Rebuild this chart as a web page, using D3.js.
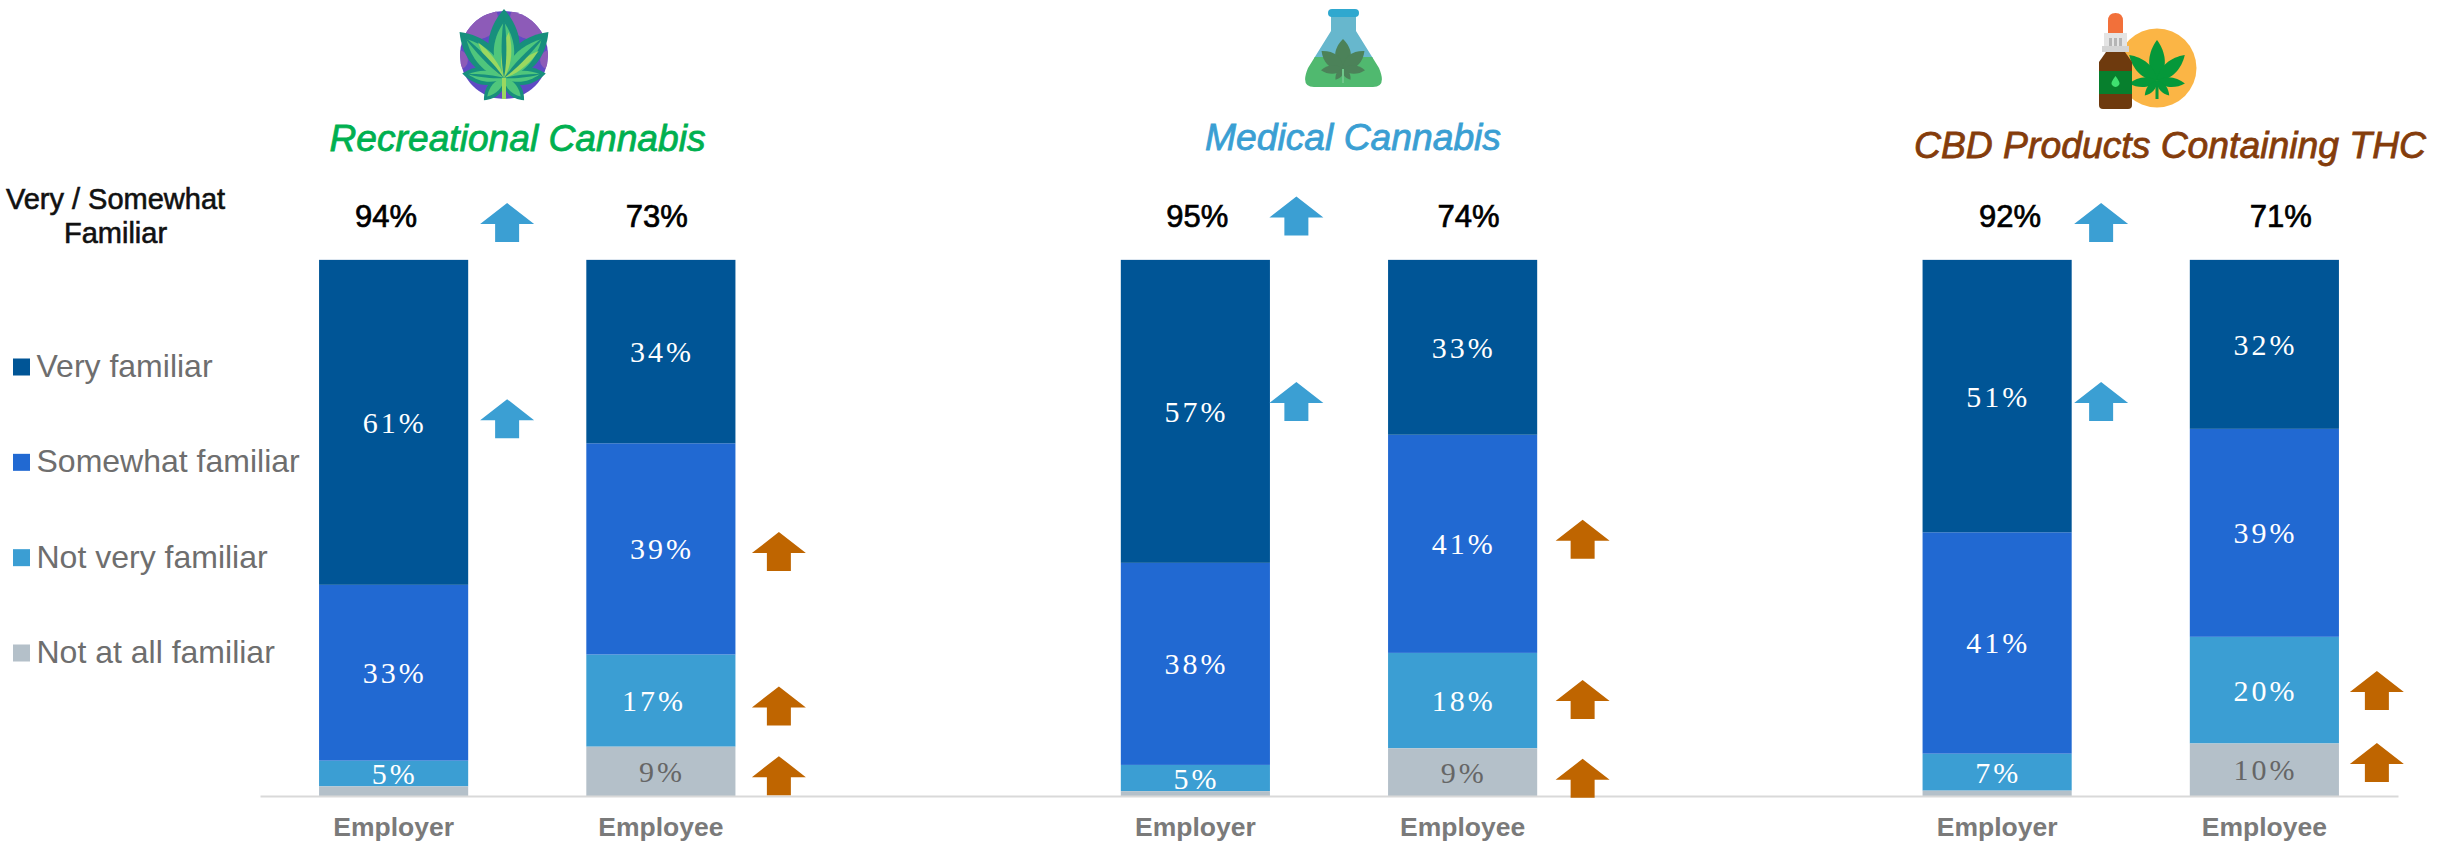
<!DOCTYPE html>
<html>
<head>
<meta charset="utf-8">
<script src="https://cdn.jsdelivr.net/npm/d3@7"></script>
<style>
html,body{margin:0;padding:0;background:#fff;overflow:hidden}
svg{display:block}
.sans{font-family:"Liberation Sans",Arial,sans-serif}
.serif{font-family:"Liberation Serif","Times New Roman",serif}
</style>
</head>
<body>
<div id="chart"></div>
<script>
// ---------- data ----------
const slots = ["rec-er","rec-ee","gap1","med-er","med-ee","gap2","cbd-er","cbd-ee"];
const barKeys = ["rec-er","rec-ee","med-er","med-ee","cbd-er","cbd-ee"];
const audiences = ["Employer","Employee","Employer","Employee","Employer","Employee"];
const titles = ["Recreational Cannabis","Medical Cannabis","CBD Products Containing THC"];
const legendLabels = ["Very familiar","Somewhat familiar","Not very familiar","Not at all familiar"];
const totalLabels = ["94%","73%","95%","74%","92%","71%"];
const veryFamiliar = [60.6,34.2,56.5,32.6,50.8,31.5];
const somewhatFamiliar = [32.8,39.4,37.7,40.7,41.3,38.8];
const notVeryFamiliar = [4.8,17.2,4.9,17.8,6.9,19.9];
const notAtAllFamiliar = [1.8,9.2,0.9,8.9,1.0,9.8];
// significance arrows: bar key + level on the percent scale
const arrowBars = ["rec-er","rec-er","rec-ee","rec-ee","rec-ee","med-er","med-er","med-ee","med-ee","med-ee","cbd-er","cbd-er","cbd-ee","cbd-ee"];
const arrowLevels = [107,70.4,45.6,16.8,3.8,108.2,73.6,47.9,18,3.3,107,73.6,19.7,6.25];

// ---------- style / layout ----------
const W=2456,H=843;
const colors=["#005596","#2169d2","#3b9ed3","#b4c0c9"];
const arrowColors={er:"#3b9fd3",ee:"#bf6500"};
const titleColors=["#00b050","#3a9fd3","#843c0b"];
const arrowDx={"rec-er":113.5,"rec-ee":118,"med-er":101,"med-ee":120,"cbd-er":104,"cbd-ee":112.5};
const totalDx={"rec-er":-7.5,"rec-ee":-4,"med-er":2,"med-ee":6,"cbd-er":13,"cbd-ee":16.5};
const labelDx={"rec-ee|notVery":-8};

const svg=d3.select("#chart").append("svg").attr("width",W).attr("height",H).attr("viewBox",[0,0,W,H]);
const x=d3.scaleBand().domain(slots).range([260,2398]).paddingInner(0.442).paddingOuter(0.221);
const y=d3.scaleLinear().domain([0,100]).range([796,260]);

const rows=barKeys.map((k,i)=>({key:k,veryFamiliar:veryFamiliar[i],somewhatFamiliar:somewhatFamiliar[i],notVery:notVeryFamiliar[i],notAtAll:notAtAllFamiliar[i]}));
const stackKeys=["notAtAll","notVery","somewhatFamiliar","veryFamiliar"];
const stacked=d3.stack().keys(stackKeys)(rows);
const colorOf=d3.scaleOrdinal().domain(["veryFamiliar","somewhatFamiliar","notVery","notAtAll"]).range(colors);

function drawRects(g,series){
  g.selectAll("rect").data(series.map(d=>({k:series.key,d}))).join("rect")
   .attr("x",v=>x(v.d.data.key)).attr("width",x.bandwidth())
   .attr("y",v=>y(v.d[1])).attr("height",v=>y(v.d[0])-y(v.d[1]))
   .attr("fill",colorOf(series.key));
}
function drawLabels(g,series,fill){
  g.selectAll("text").data(series.filter(d=>d[1]-d[0]>=2)).join("text")
   .attr("class","serif")
   .attr("x",d=>x(d.data.key)+x.bandwidth()/2+(labelDx[d.data.key+"|"+series.key]||0)+1)
   .attr("y",d=>y((d[0]+d[1])/2)+10.5)
   .attr("text-anchor","middle").attr("font-size",30).attr("letter-spacing",3)
   .attr("fill",fill).text(d=>Math.round(d[1]-d[0])+"%");
}
// upper segments, then their labels, then the bottom segment over them
stacked.filter(s=>s.key!=="notAtAll").forEach(s=>drawRects(svg.append("g"),s));
// pale rim on the bar tops
svg.append("g").selectAll("line").data(barKeys).join("line")
  .attr("x1",d=>x(d)).attr("x2",d=>x(d)+x.bandwidth()).attr("y1",y(100)-0.5).attr("y2",y(100)-0.5)
  .attr("stroke","#dce6f0").attr("stroke-width",1);
stacked.filter(s=>s.key!=="notAtAll").forEach(s=>drawLabels(svg.append("g"),s,"#fff"));
stacked.filter(s=>s.key==="notAtAll").forEach(s=>{drawRects(svg.append("g"),s);drawLabels(svg.append("g"),s,"#666");});

// axis
const axis=d3.axisBottom(x).tickValues(barKeys).tickSize(0).tickPadding(0)
  .tickFormat(k=>audiences[barKeys.indexOf(k)]);
const ax=svg.append("g").attr("transform",`translate(0,${y(0)})`).call(axis);
ax.select(".domain").attr("stroke","#d9d9d9").attr("stroke-width",2);
ax.selectAll("text").attr("class","sans").attr("font-family",'"Liberation Sans",Arial,sans-serif')
  .attr("font-size",26.5).attr("font-weight",700).attr("fill","#7a7a7a").attr("dy",0).attr("y",39.5);

// totals
svg.append("g").selectAll("text").data(barKeys).join("text").attr("class","sans")
  .attr("x",k=>x(k)+x.bandwidth()/2+totalDx[k]).attr("y",227)
  .attr("text-anchor","middle").attr("font-size",31).attr("fill","#000")
  .attr("stroke","#000").attr("stroke-width",0.7)
  .text((k,i)=>totalLabels[i]);

// Very / Somewhat Familiar
const vs=svg.append("text").attr("class","sans").attr("text-anchor","middle").attr("font-size",29)
  .attr("fill","#111").attr("stroke","#111").attr("stroke-width",0.6);
vs.append("tspan").attr("x",115.5).attr("y",208.5).text("Very / Somewhat");
vs.append("tspan").attr("x",115.5).attr("y",243).text("Familiar");

// arrows
function arrowPath(cx,cy){
  const w=54,h=39,s=24,hh=21,p=d3.path(),t=cy-h/2,b=cy+h/2;
  p.moveTo(cx,t);p.lineTo(cx+w/2,t+hh);p.lineTo(cx+s/2,t+hh);p.lineTo(cx+s/2,b);
  p.lineTo(cx-s/2,b);p.lineTo(cx-s/2,t+hh);p.lineTo(cx-w/2,t+hh);p.closePath();
  return p.toString();
}
svg.append("g").selectAll("path").data(arrowBars.map((k,i)=>({k,v:arrowLevels[i]}))).join("path")
  .attr("d",a=>arrowPath(x(a.k)+x.bandwidth()/2+arrowDx[a.k],y(a.v)))
  .attr("fill",a=>a.k.endsWith("er")?arrowColors.er:arrowColors.ee);

// legend
const lg=svg.append("g").selectAll("g").data(legendLabels).join("g");
const legendY=d3.scalePoint().domain(legendLabels).range([367,653]);
lg.append("rect").attr("x",13).attr("width",17).attr("height",17).attr("y",d=>legendY(d)-8.5)
  .attr("fill",(d,i)=>colors[i]);
lg.append("text").attr("class","sans").attr("x",36.5).attr("y",d=>legendY(d)+10)
  .attr("font-size",32).attr("fill","#6e6e6e").text(d=>d);

// titles
const titleX=[329.5,1205,1914],titleW=[376,296,512],titleY=[151,150,157.5];
svg.append("g").selectAll("text").data(titles).join("text").attr("class","sans")
  .attr("x",(d,i)=>titleX[i]).attr("y",(d,i)=>titleY[i]).attr("font-size",37).attr("font-style","italic")
  .attr("textLength",(d,i)=>titleW[i]).attr("lengthAdjust","spacingAndGlyphs")
  .attr("fill",(d,i)=>titleColors[i]).attr("stroke",(d,i)=>titleColors[i]).attr("stroke-width",0.8).text(d=>d);

// ---------- icons ----------
function blade(len,wid){ // leaf blade pointing up from origin
  const p=d3.path();p.moveTo(0,0);
  p.bezierCurveTo(-wid*0.9,-len*0.3,-wid*0.7,-len*0.7,0,-len);
  p.bezierCurveTo(wid*0.7,-len*0.7,wid*0.9,-len*0.3,0,0);p.closePath();return p.toString();
}
function leaf(g,cx,cy,spec,fill,stem){
  const l=g.append("g").attr("transform",`translate(${cx},${cy})`);
  spec.forEach(([a,len,wid])=>l.append("path").attr("d",blade(len,wid)).attr("transform",`rotate(${a})`).attr("fill",fill));
  if(stem) l.append("rect").attr("x",-stem[1]/2).attr("y",0).attr("width",stem[1]).attr("height",stem[0]).attr("fill",stem[2]||fill);
  return l;
}
// recreational
(function(){
  const g=svg.append("g"),cx=504,cy=55,r=44,ly=78;
  g.append("circle").attr("cx",cx).attr("cy",cy).attr("r",r).attr("fill","#5f4ac4");
  g.append("clipPath").attr("id","recClip").append("circle").attr("cx",cx).attr("cy",cy).attr("r",r);
  const pat=g.append("g").attr("clip-path","url(#recClip)");
  [[cx-26,cy-36,20],[cx+26,cy-36,20],[cx-46,cy+5,10],[cx+46,cy+5,10]].forEach(c=>
    pat.append("circle").attr("cx",c[0]).attr("cy",c[1]).attr("r",c[2]).attr("fill","#8d5bb8"));
  const body=[[0,69,26],[-44,64,22],[44,64,22],[-84,42,15],[84,42,15],[-138,30,12],[138,30,12]];
  const inner=[[0,56,17],[-44,54,14],[44,54,14],[-84,36,9],[84,36,9],[-138,25,7],[138,25,7]];
  leaf(g,cx,ly,body,"#178f7d");
  leaf(g,cx,ly,inner,"#4fc67c");
  // lit half of the three upper blades and the dark midribs
  leaf(g,cx,ly,[[6,46,8],[-36,44,6],[52,44,6]],"#9ad860");
  leaf(g,cx,ly,[[0,62,4],[-44,58,3.5],[44,58,3.5],[-84,38,2.5],[84,38,2.5]],"#178f7d");
  g.append("rect").attr("x",cx-2).attr("y",ly).attr("width",4).attr("height",21).attr("fill","#9ad860");
})();
// medical flask
(function(){
  const g=svg.append("g");
  const flask="M1331,15 L1356,15 L1356,31 L1379,68 Q1387,87 1373,87 L1314,87 Q1300,87 1308,68 L1331,31 Z";
  g.append("clipPath").attr("id","flaskClip").append("path").attr("d",flask);
  const f=g.append("g").attr("clip-path","url(#flaskClip)");
  f.append("rect").attr("x",1300).attr("y",10).attr("width",90).attr("height",48).attr("fill","#67b7cd");
  f.append("rect").attr("x",1300).attr("y",57).attr("width",90).attr("height",32).attr("fill","#50b96f");
  g.append("rect").attr("x",1328).attr("y",9).attr("width",31).attr("height",8).attr("rx",4).attr("fill","#2fa8cf");
  leaf(g,1343,69,[[0,30,13],[-50,28,11],[50,28,11],[-93,22,7],[93,22,7],[-145,13,5],[145,13,5]],"#4c8259");
  g.append("rect").attr("x",1342).attr("y",69).attr("width",2).attr("height",14).attr("fill","#6fc78a");
})();
// CBD bottle
(function(){
  const g=svg.append("g");
  g.append("circle").attr("cx",2157).attr("cy",68).attr("r",39.5).attr("fill","#fbb545");
  leaf(g,2157,81,[[0,41,13],[-47,38,11],[47,38,11],[-95,28,8],[95,28,8],[-140,19,6],[140,19,6]],"#05983a",[18,3]);
  g.append("path").attr("d","M2108,33 L2108,21 Q2108,13 2115.5,13 Q2123,13 2123,21 L2123,33 Z").attr("fill","#f2703a");
  g.append("rect").attr("x",2104).attr("y",33).attr("width",23).attr("height",19).attr("fill","#e4e4e4");
  g.append("rect").attr("x",2102).attr("y",46).attr("width",27).attr("height",6).attr("fill","#d4d4d4");
  [2109,2114,2119].forEach(v=>g.append("rect").attr("x",v).attr("y",38).attr("width",3).attr("height",8).attr("fill","#b5b5b5"));
  g.append("path").attr("d","M2106,52 L2125,52 L2132,62 L2132,105 Q2132,109 2128,109 L2103,109 Q2099,109 2099,105 L2099,62 Z").attr("fill","#6e3a0e");
  g.append("rect").attr("x",2099).attr("y",71).attr("width",33).attr("height",23).attr("fill","#077f2d");
  g.append("path").attr("d","M2115.5,76 Q2121,83 2119,85 Q2115.5,89 2112,85 Q2110,83 2115.5,76 Z").attr("fill","#3fe070");
})();
</script>
</body>
</html>
